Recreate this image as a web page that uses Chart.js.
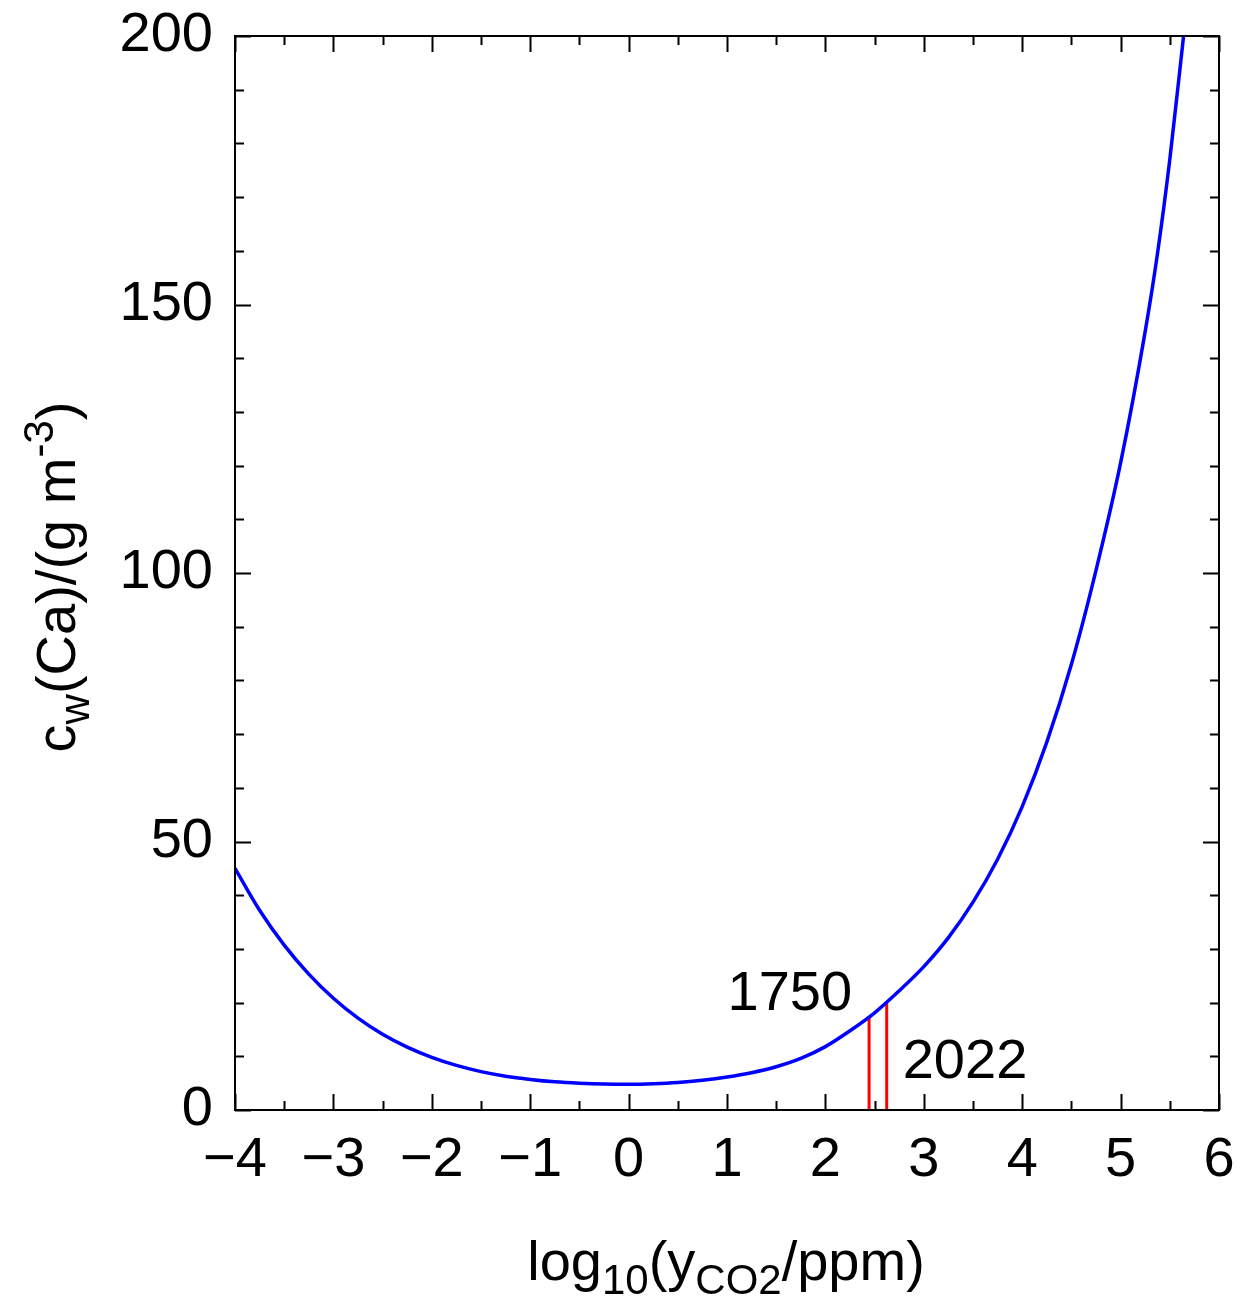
<!DOCTYPE html>
<html>
<head>
<meta charset="utf-8">
<script src="https://cdn.jsdelivr.net/npm/chart.js@4/dist/chart.umd.min.js"></script>
<style>
  html, body { margin: 0; padding: 0; background: #fff; }
  #c { display: block; }
</style>
</head>
<body>
<canvas id="c" width="1241" height="1296"></canvas>
<script>
// dissolved calcium vs. CO2 mixing ratio (log scale)
const logCO2 = [-4, -3.75, -3.5, -3.25, -3, -2.75, -2.5, -2.25, -2, -1.75, -1.5, -1.25, -1, -0.75, -0.5, -0.25,
                0, 0.25, 0.5, 0.75, 1, 1.25, 1.5, 1.75, 2, 2.25, 2.5, 2.75, 3, 3.25, 3.5, 3.75,
                4, 4.25, 4.5, 4.75, 5, 5.25, 5.375, 5.5, 5.64];
const cwCa = [45.0, 37.2, 30.7, 25.3, 20.8, 17.1, 14.1, 11.7, 9.8, 8.3, 7.15, 6.3, 5.7, 5.25, 4.98, 4.82,
              4.78, 4.88, 5.12, 5.55, 6.15, 6.95, 8.05, 9.6, 11.8, 14.75, 18.1, 22.2, 26.7, 32.1, 38.7, 46.7,
              56.5, 68.5, 83.0, 100.5, 120.5, 145.0, 159.5, 177.0, 200];

// pre-industrial and present-day markers
const yearNames = ['1750', '2022'];
const yearLogCO2 = [2.444, 2.623];
const yearCw = [17.4, 19.9];

const xMajor = [-4, -3, -2, -1, 0, 1, 2, 3, 4, 5, 6];
const xMinor = [-3.5, -2.5, -1.5, -0.5, 0.5, 1.5, 2.5, 3.5, 4.5, 5.5];
const yMajor = [0, 50, 100, 150, 200];
const yMinor = [10, 20, 30, 40, 60, 70, 80, 90, 110, 120, 130, 140, 160, 170, 180, 190];

const FONT = '"Liberation Sans", Arial, Helvetica, sans-serif';

const curve = logCO2.map((x, i) => ({ x, y: cwCa[i] }));
const markerSets = yearNames.map((name, i) => ({
    label: name,
    data: [{ x: yearLogCO2[i], y: 0 }, { x: yearLogCO2[i], y: yearCw[i] }],
    borderColor: '#ff0000', borderWidth: 3, showLine: true, pointRadius: 0,
}));

// frame, inward ticks on all four sides, marker labels and axis titles
const decorations = {
    id: 'decorations',
    afterDatasetsDraw(chart) {
        const { ctx, chartArea: a, scales: { x, y } } = chart;
        ctx.save();
        ctx.strokeStyle = '#000';
        ctx.lineWidth = 2;
        ctx.strokeRect(a.left, a.top, a.right - a.left, a.bottom - a.top);

        const tickX = (v, len) => {
            const px = Math.round(x.getPixelForValue(v)) + 0.5;
            ctx.beginPath();
            ctx.moveTo(px, a.bottom); ctx.lineTo(px, a.bottom - len);
            ctx.moveTo(px, a.top); ctx.lineTo(px, a.top + len);
            ctx.stroke();
        };
        const tickY = (v, len) => {
            const py = Math.round(y.getPixelForValue(v)) + 0.5;
            ctx.beginPath();
            ctx.moveTo(a.left, py); ctx.lineTo(a.left + len, py);
            ctx.moveTo(a.right, py); ctx.lineTo(a.right - len, py);
            ctx.stroke();
        };
        xMajor.forEach(v => tickX(v, 16));
        xMinor.forEach(v => tickX(v, 9));
        yMajor.forEach(v => tickY(v, 16));
        yMinor.forEach(v => tickY(v, 9));

        ctx.fillStyle = '#000';
        ctx.font = `56px ${FONT}`;
        ctx.textBaseline = 'alphabetic';
        // 1750 to the upper left of its line, 2022 lower right
        ctx.textAlign = 'right';
        ctx.fillText(yearNames[0], x.getPixelForValue(yearLogCO2[0]) - 17, y.getPixelForValue(yearCw[0]) - 7);
        ctx.textAlign = 'left';
        ctx.fillText(yearNames[1], x.getPixelForValue(yearLogCO2[1]) + 16, y.getPixelForValue(yearCw[1]) + 75);

        // runs of [text, size, baseline shift]
        const drawRuns = (runs, cx, base) => {
            let w = 0;
            runs.forEach(r => { ctx.font = `${r[1]}px ${FONT}`; w += ctx.measureText(r[0]).width; });
            let cur = cx - w / 2;
            ctx.textAlign = 'left';
            runs.forEach(r => {
                ctx.font = `${r[1]}px ${FONT}`;
                ctx.fillText(r[0], cur, base + r[2]);
                cur += ctx.measureText(r[0]).width;
            });
        };
        drawRuns([['log', 56, 0], ['10', 42, 14], ['(y', 56, 0], ['CO2', 42, 14], ['/ppm)', 56, 0]], 726, 1280);

        ctx.save();
        ctx.translate(75, 577);
        ctx.rotate(-Math.PI / 2);
        drawRuns([['c', 56, 0], ['w', 42, 14], ['(Ca)/(g m', 56, 0], ['-3', 42, -22], [')', 56, 0]], 0, 0);
        ctx.restore();
        ctx.restore();
    },
};

// fixed axis box: no extra room for overhanging tick labels
const noOverhang = s => {
    s.paddingTop = 0; s.paddingBottom = 0; s.paddingLeft = 0; s.paddingRight = 0;
};

new Chart(document.getElementById('c'), {
    type: 'scatter',
    data: {
        datasets: [{
            label: 'cw(Ca)',
            data: curve,
            borderColor: '#0000ff', borderWidth: 3.5, showLine: true, pointRadius: 0,
            cubicInterpolationMode: 'monotone',
        }, ...markerSets],
    },
    options: {
        responsive: false,
        animation: false,
        events: [],
        layout: { padding: { top: 36, right: 22, left: 0, bottom: 0 } },
        plugins: { legend: { display: false }, tooltip: { enabled: false } },
        scales: {
            x: {
                type: 'linear', min: -4, max: 6,
                grid: { display: false, drawTicks: false },
                border: { display: false },
                afterBuildTicks: s => { s.ticks = xMajor.map(v => ({ value: v })); },
                afterFit: s => { s.height = 186; noOverhang(s); },
                ticks: {
                    padding: 17, color: '#000',
                    font: { family: FONT, size: 56 },
                    callback: v => String(v).replace('-', '\u2212'),
                },
            },
            y: {
                type: 'linear', min: 0, max: 200,
                grid: { display: false, drawTicks: false },
                border: { display: false },
                afterBuildTicks: s => { s.ticks = yMajor.map(v => ({ value: v })); },
                afterFit: s => { s.width = 235; noOverhang(s); },
                ticks: {
                    padding: 22, color: '#000',
                    font: { family: FONT, size: 56 },
                },
            },
        },
    },
    plugins: [decorations],
});
</script>
</body>
</html>
